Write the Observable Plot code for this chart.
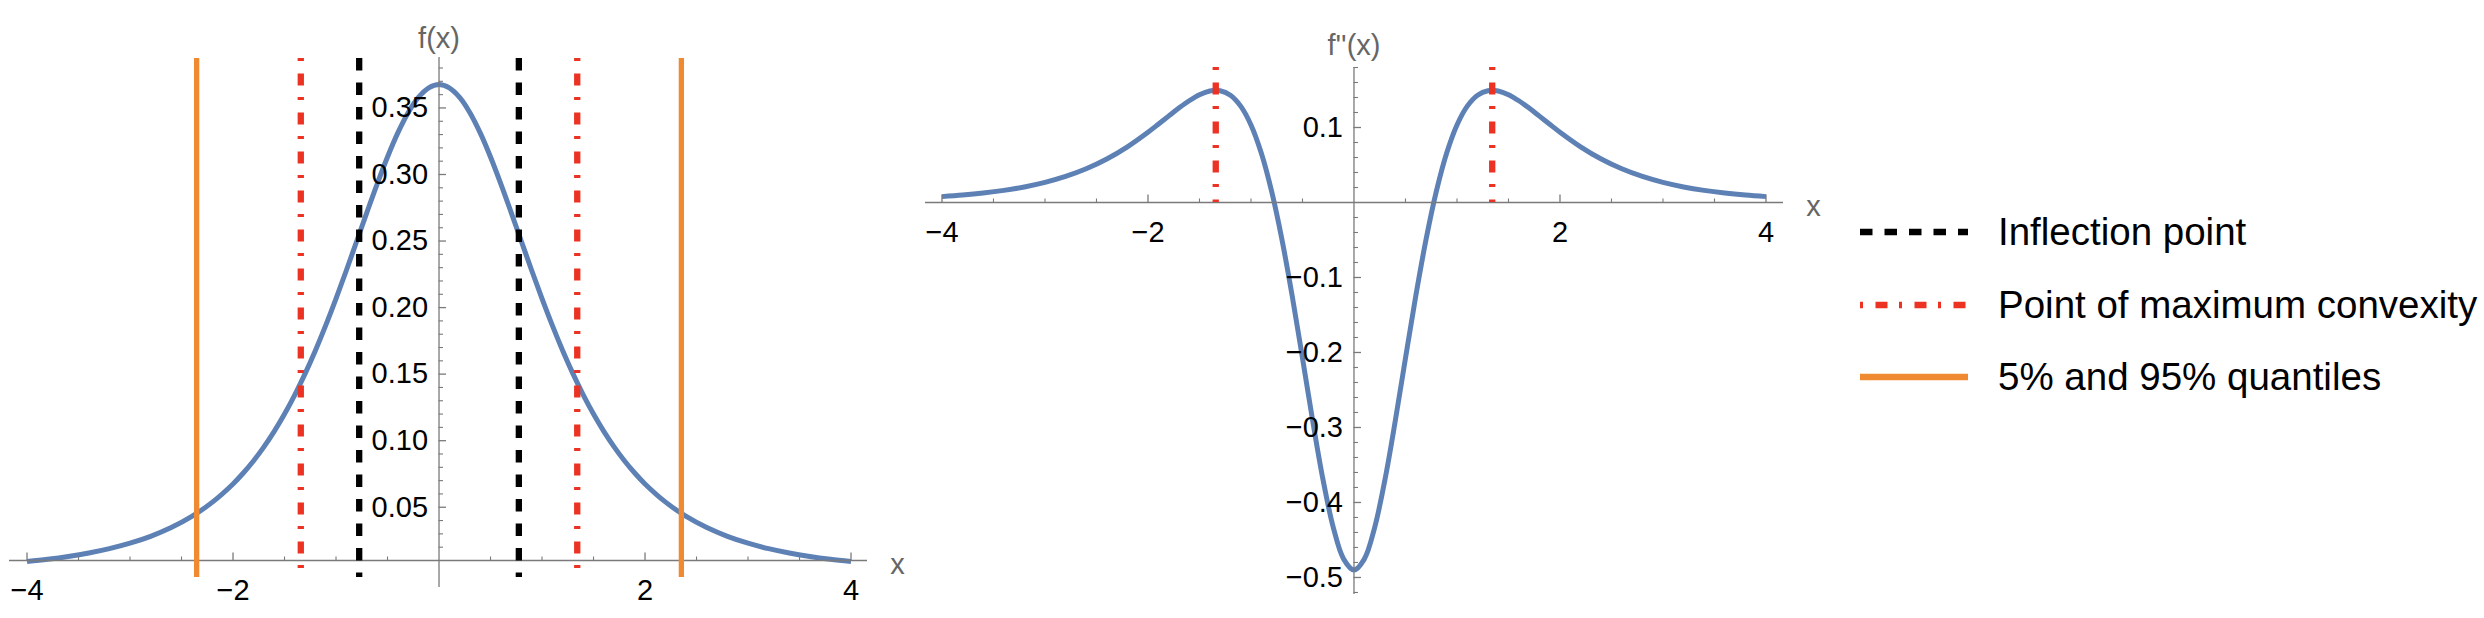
<!DOCTYPE html>
<html><head><meta charset="utf-8">
<script src="https://cdn.jsdelivr.net/npm/d3@7"></script>
<script src="https://cdn.jsdelivr.net/npm/@observablehq/plot@0.6"></script>
<style>
html,body{margin:0;padding:0;background:#fff;}
#wrap{position:relative;width:2484px;height:618px;overflow:hidden;font-family:"Liberation Sans",Arial,Helvetica,sans-serif;}
#left{position:absolute;left:0;top:0;}
#right{position:absolute;left:900px;top:0;}
#legend{position:absolute;left:1860px;top:0;width:620px;height:618px;}
.row{position:absolute;left:0;height:50px;display:flex;align-items:center;white-space:nowrap;font-size:38.5px;color:#000;}
.row svg{display:block;flex:none;}
.row span{margin-left:30px;}
</style></head><body>
<div id="wrap"><div id="left"></div><div id="right"></div><div id="legend"></div></div>
<script>
// ---- data ----
const xs = [-4,-3.8,-3.6,-3.4,-3.2,-3,-2.8,-2.6,-2.4,-2.2,-2,-1.9,-1.8,-1.7,-1.6,-1.5,-1.4,-1.3,-1.2,-1.1,-1,-0.9,-0.8,-0.7,-0.6,-0.5,-0.4,-0.3,-0.2,-0.1,0,0.1,0.2,0.3,0.4,0.5,0.6,0.7,0.8,0.9,1,1.1,1.2,1.3,1.4,1.5,1.6,1.7,1.8,1.9,2,2.2,2.4,2.6,2.8,3,3.2,3.4,3.6,3.8,4];
const fVals = [0.00916,0.01088,0.01299,0.01560,0.01887,0.02297,0.02815,0.03473,0.04311,0.05382,0.06751,0.07571,0.08495,0.09535,0.10701,0.12002,0.13446,0.15039,0.16780,0.18664,0.20675,0.22788,0.24967,0.27159,0.29301,0.31318,0.33127,0.34645,0.35794,0.36511,
  0.36755,
  0.36511,0.35794,0.34645,0.33127,0.31318,0.29301,0.27159,0.24967,0.22788,0.20675,0.18664,0.16780,0.15039,0.13446,0.12002,0.10701,0.09535,0.08495,0.07571,0.06751,0.05382,0.04311,0.03473,0.02815,0.02297,0.01887,0.01560,0.01299,0.01088,0.00916];
const f2Vals = [0.00782,0.00990,0.01260,0.01613,0.02075,0.02680,0.03469,0.04491,0.05797,0.07425,0.09369,0.10432,0.11520,0.12588,0.13569,0.14369,0.14866,0.14905,0.14300,0.12847,0.10337,0.06593,0.01507,-0.04905,-0.12458,-0.20755,-0.29194,-0.37011,-0.43380,-0.47553,
  -0.49007,
  -0.47553,-0.43380,-0.37011,-0.29194,-0.20755,-0.12458,-0.04905,0.01507,0.06593,0.10337,0.12847,0.14300,0.14905,0.14866,0.14369,0.13569,0.12588,0.11520,0.10432,0.09369,0.07425,0.05797,0.04491,0.03469,0.02680,0.02075,0.01613,0.01260,0.00990,0.00782];
const inflectionX = [-0.775, 0.775];
const maxConvexityX = [-1.342, 1.342];
const quantileX = [-2.353, 2.353];
const fRuleSpan = [-0.0028, 0.3872];    // vertical marker lines in f(x) panel
const f2RuleSpan = [0, 0.18];           // vertical marker lines in f''(x) panel
const fAxisOrigin = 0.01;               // the f(x) panel's horizontal axis sits at y = 0.01
const f2AxisOrigin = 0;
const xTickValues = [-4, -2, 2, 4];
const xTickLabels = ["−4", "−2", "2", "4"];
const fTickValues = [0.05, 0.10, 0.15, 0.20, 0.25, 0.30, 0.35];
const fTickLabels = ["0.05", "0.10", "0.15", "0.20", "0.25", "0.30", "0.35"];
const f2TickValues = [0.1, -0.1, -0.2, -0.3, -0.4, -0.5];
const f2TickLabels = ["0.1", "−0.1", "−0.2", "−0.3", "−0.4", "−0.5"];
const fDomainX = [-4.17, 4.16], fDomainY = [-0.0103, 0.3879];
const f2DomainX = [-4.16, 4.17], f2DomainY = [-0.5227, 0.18];
const legendLabels = ["Inflection point", "Point of maximum convexity", "5% and 95% quantiles"];
const axisLabels = ["f(x)", "f''(x)", "x"];

// ---- styles ----
const FONT = "Liberation Sans, Arial, Helvetica, sans-serif";
const AX = "#7a7a7a", LABEL = "#666666";
const BLUE = "#5E81B5", RED = "#EB3223", ORANGE = "#EF8A33";
const DASH_BLACK = "12.5,12", DASH_RED = "3,12.5,12,11.5";
const TICK_FS = 29;
const CURVE_W = 5;

const fData = xs.map((x, i) => ({x, y: fVals[i]}));
const f2Data = xs.map((x, i) => ({x, y: f2Vals[i]}));

function minor(lo, hi, step, majorStep) {
  return d3.range(Math.round(lo / step), Math.round(hi / step) + 1)
    .map(k => +(k * step).toFixed(4))
    .filter(v => Math.abs(v / majorStep - Math.round(v / majorStep)) > 1e-6);
}

function axesMarks(origin, yMinorVals, yMajorVals, yLabels) {
  const xMinorVals = minor(-4, 4, 0.5, 2);
  return [
    Plot.ruleY([origin], {stroke: AX, strokeWidth: 1.3}),
    Plot.ruleX([0], {stroke: AX, strokeWidth: 1.3}),
    Plot.ruleX(xTickValues, {x: d => d, y1: () => origin, y2: () => origin, insetTop: -7.5, stroke: AX, strokeWidth: 1.3}),
    Plot.ruleX(xMinorVals, {x: d => d, y1: () => origin, y2: () => origin, insetTop: -3.5, stroke: AX, strokeWidth: 1.1}),
    Plot.ruleY(yMajorVals, {y: d => d, x1: () => 0, x2: () => 0, insetRight: -7.5, stroke: AX, strokeWidth: 1.3}),
    Plot.ruleY(yMinorVals, {y: d => d, x1: () => 0, x2: () => 0, insetRight: -4.5, stroke: AX, strokeWidth: 1.1}),
    Plot.text(xTickValues, {x: d => d, y: () => origin, text: (d, i) => xTickLabels[i], dy: 30, fontSize: TICK_FS, fill: "#000", fontFamily: FONT}),
    Plot.text(yMajorVals, {x: () => 0, y: d => d, text: (d, i) => yLabels[i], dx: -11, textAnchor: "end", fontSize: TICK_FS, fill: "#000", fontFamily: FONT}),
    Plot.text([axisLabels[2]], {y: () => origin, frameAnchor: "right", dx: 30, dy: 4, textAnchor: "middle", fontSize: TICK_FS, fill: LABEL, fontFamily: FONT})
  ];
}

const left = Plot.plot({
  width: 910, height: 618,
  marginLeft: 9, marginRight: 43, marginTop: 57, marginBottom: 31,
  x: {type: "linear", domain: fDomainX, axis: null},
  y: {type: "linear", domain: fDomainY, axis: null},
  style: {fontFamily: FONT, background: "transparent", overflow: "visible"},
  marks: [
    Plot.line(fData, {x: "x", y: "y", stroke: BLUE, strokeWidth: CURVE_W, curve: "catmull-rom", strokeLinecap: "butt"}),
    ...axesMarks(fAxisOrigin, minor(0.02, 0.38, 0.01, 0.05), fTickValues, fTickLabels),
    Plot.ruleX(quantileX, {x: d => d, y1: () => fRuleSpan[1], y2: () => fRuleSpan[0], stroke: ORANGE, strokeWidth: 5.3}),
    Plot.ruleX(maxConvexityX, {x: d => d, y1: () => fRuleSpan[1], y2: () => fRuleSpan[0], stroke: RED, strokeWidth: 6.3, strokeDasharray: DASH_RED}),
    Plot.ruleX(inflectionX, {x: d => d, y1: () => fRuleSpan[1], y2: () => fRuleSpan[0], stroke: "#000", strokeWidth: 6.3, strokeDasharray: DASH_BLACK}),
    Plot.text([axisLabels[0]], {x: () => 0, frameAnchor: "top", dy: -30, fontSize: TICK_FS, fill: LABEL, fontFamily: FONT})
  ]
});
document.getElementById("left").appendChild(left);

const right = Plot.plot({
  width: 940, height: 618,
  marginLeft: 25, marginRight: 57, marginTop: 67, marginBottom: 24,
  x: {type: "linear", domain: f2DomainX, axis: null},
  y: {type: "linear", domain: f2DomainY, axis: null},
  style: {fontFamily: FONT, background: "transparent", overflow: "visible"},
  marks: [
    Plot.line(f2Data, {x: "x", y: "y", stroke: BLUE, strokeWidth: CURVE_W, curve: "catmull-rom", strokeLinecap: "butt"}),
    ...axesMarks(f2AxisOrigin, minor(-0.52, 0.18, 0.02, 0.1), f2TickValues, f2TickLabels),
    Plot.ruleX(maxConvexityX, {x: d => d, y1: () => f2RuleSpan[1], y2: () => f2RuleSpan[0], stroke: RED, strokeWidth: 6.3, strokeDasharray: DASH_RED}),
    Plot.text([axisLabels[1]], {x: () => 0, frameAnchor: "top", dy: -33, fontSize: TICK_FS, fill: LABEL, fontFamily: FONT})
  ]
});
document.getElementById("right").appendChild(right);

// ---- legend ----
const legendStyles = [
  {stroke: "#000", width: 6.5, dash: DASH_BLACK},
  {stroke: RED, width: 6.5, dash: DASH_RED},
  {stroke: ORANGE, width: 6.5, dash: null}
];
const rowCenters = [232, 305, 377];
const legend = document.getElementById("legend");
legendLabels.forEach((lab, i) => {
  const row = document.createElement("div");
  row.className = "row";
  row.style.top = (rowCenters[i] - 25) + "px";
  const s = legendStyles[i];
  const ns = "http://www.w3.org/2000/svg";
  const svg = document.createElementNS(ns, "svg");
  svg.setAttribute("width", 108); svg.setAttribute("height", 20);
  const ln = document.createElementNS(ns, "line");
  ln.setAttribute("x1", 0); ln.setAttribute("x2", 108);
  ln.setAttribute("y1", 10); ln.setAttribute("y2", 10);
  ln.setAttribute("stroke", s.stroke); ln.setAttribute("stroke-width", s.width);
  if (s.dash) ln.setAttribute("stroke-dasharray", s.dash);
  svg.appendChild(ln);
  const sp = document.createElement("span");
  sp.textContent = lab;
  row.appendChild(svg); row.appendChild(sp);
  legend.appendChild(row);
});
</script>
</body></html>
